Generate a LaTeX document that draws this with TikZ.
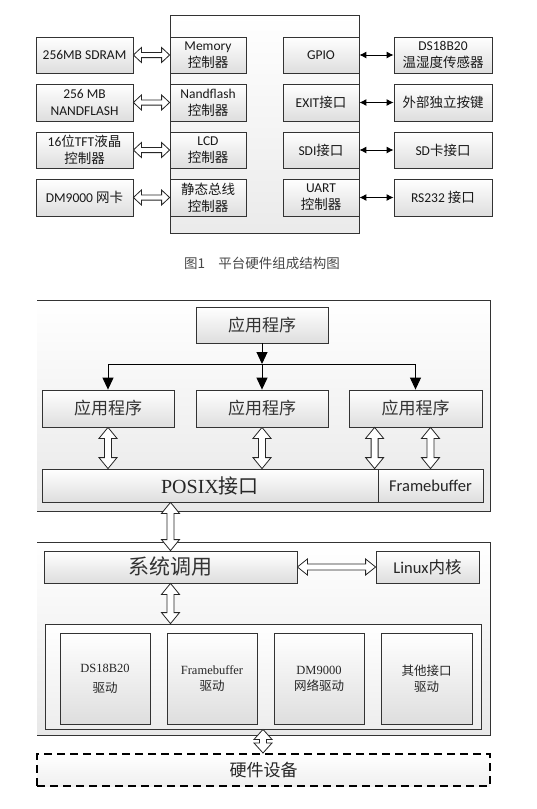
\documentclass[tikz,border=0pt]{standalone}
\usepackage{fontspec}
\setmainfont{Carlito}
\newfontfamily\cjk{Noto Sans CJK SC}
\newfontfamily\tms{Liberation Serif}
\usetikzlibrary{calc,shadows,arrows.meta}

% hollow double-headed block arrow between two coordinates
% #1 from, #2 to, #3 head length, #4 head half width, #5 shaft half width
\newcommand\hollowarrow[5]{%
  \path #1 coordinate (hA) #2 coordinate (hB);
  \path ($(hA)!#3!(hB)$) coordinate (hAh) ($(hB)!#3!(hA)$) coordinate (hBh);
  \draw[hollowline] (hA) -- ($(hAh)!#4!90:(hB)$) -- ($(hAh)!#5!90:(hB)$)
    -- ($(hBh)!#5!-90:(hA)$) -- ($(hBh)!#4!-90:(hA)$) -- (hB)
    -- ($(hBh)!#4!90:(hA)$) -- ($(hBh)!#5!90:(hA)$)
    -- ($(hAh)!#5!-90:(hB)$) -- ($(hAh)!#4!-90:(hB)$) -- cycle;}

% box by corners: [style]{name}{x1}{y1}{x2}{y2}{text}
\newcommand\bx[7][]{%
  \node[#1, minimum width={(#5-#3)*1pt}, minimum height={(#6-#4)*1pt}]
    (#2) at ({(#3+#5)/2},{(#4+#6)/2}) {#7};}

\begin{document}
\begin{tikzpicture}[x=1pt,y=-1pt,
  hollowline/.style={draw=black!85, fill=white, line width=0.8pt, line join=miter},
  shadebox/.style={draw=black!80, line width=0.8pt, top color=white, bottom color=black!13,
     drop shadow={shadow xshift=1.3pt, shadow yshift=-1.3pt, opacity=0.35},
     inner sep=0pt, align=center},
  topbox/.style={shadebox, font=\fontsize{13.5}{17}\selectfont, text=black!90},
  appbox/.style={shadebox, font=\cjk\fontsize{17}{20}\selectfont, text=black!80},
  drvbox/.style={shadebox, font=\fontsize{12.5}{16}\selectfont, text=black!85},
  thinarrow/.style={line width=1pt, {Latex[length=7pt,width=7pt]}-{Latex[length=7pt,width=7pt]}},
  triarrow/.style={line width=1pt, -{Triangle[length=12pt,width=11pt]}},
  container/.style={draw=black!80, line width=0.8pt, top color=white, bottom color=black!7}
]
\useasboundingbox (0,0) rectangle (536,809);
\fill[white] (0,0) rectangle (536,809);

% ================= Figure 1 =================
\bx[draw=black!80, line width=0.8pt, top color=white, bottom color=black!8]{cpu}{170}{15}{359}{233}{}

% left external boxes
\bx[topbox]{l1}{36}{37}{133}{73}{256MB SDRAM}
\bx[topbox]{l2}{36}{84}{133}{121}{256 MB\\NANDFLASH}
\bx[topbox]{l3}{36}{132}{133}{168}{16{\cjk 位}TFT{\cjk 液晶}\\{\cjk 控制器}}
\bx[topbox]{l4}{36}{179}{133}{216}{DM9000 {\cjk 网卡}}

% inner left controllers
\bx[topbox]{c1}{170}{37}{246}{73}{Memory\\{\cjk 控制器}}
\bx[topbox]{c2}{170}{84}{246}{121}{Nandflash\\{\cjk 控制器}}
\bx[topbox]{c3}{170}{132}{246}{168}{LCD\\{\cjk 控制器}}
\bx[topbox]{c4}{170}{179}{246}{216}{{\cjk 静态总线}\\{\cjk 控制器}}

% inner right controllers
\bx[topbox]{d1}{283}{37}{359}{73}{GPIO}
\bx[topbox]{d2}{283}{84}{359}{121}{EXIT{\cjk 接口}}
\bx[topbox]{d3}{283}{132}{359}{168}{SDI{\cjk 接口}}
\bx[topbox]{d4}{283}{179}{359}{216}{UART\\{\cjk 控制器}}

% right external boxes
\bx[topbox]{r1}{394}{37}{492}{73}{DS18B20\\{\cjk 温湿度传感器}}
\bx[topbox]{r2}{394}{84}{492}{121}{{\cjk 外部独立按键}}
\bx[topbox]{r3}{394}{132}{492}{168}{SD{\cjk 卡接口}}
\bx[topbox]{r4}{394}{179}{492}{216}{RS232 {\cjk 接口}}

\foreach \i in {1,2,3,4}{
  \hollowarrow{(l\i.east)}{(c\i.west)}{8pt}{7.5pt}{2.6pt}
  \draw[thinarrow] (d\i.east) -- (r\i.west);
}

\node[font=\cjk\fontsize{13.5}{16}\selectfont, text=black!72] (cap) at (262,263) {图1　平台硬件组成结构图};

% ================= Figure 2 =================
% outer box 1 (software layer)
\fill[top color=white, bottom color=black!9] (37,300) rectangle (490,511);
\draw[black!80, line width=0.8pt] (37,300) -- (490,300) -- (490,511) -- (37,511);

\bx[appbox]{top}{196}{307}{328}{343}{应用程序}
\bx[appbox]{appL}{42}{390}{174}{427}{应用程序}
\bx[appbox]{appM}{196}{390}{328}{427}{应用程序}
\bx[appbox]{appR}{349}{390}{482}{427}{应用程序}

\coordinate (jM) at (top.south |- 0,364);
\coordinate (jL) at (appL.north |- jM);
\coordinate (jR) at (appR.north |- jM);
\draw[line width=1pt] (jL) -- (jR);
\draw[triarrow] (top.south) -- (jM);
\draw[triarrow] (jM) -- (appM.north);
\draw[triarrow] (jL) -- (appL.north);
\draw[triarrow] (jR) -- (appR.north);

\bx[shadebox, font=\fontsize{20}{24}\selectfont, text=black!85]{posix}{42}{469}{378}{502}{{\tms POSIX}{\cjk 接口}}
\bx[shadebox, font=\fontsize{16.5}{20}\selectfont, text=black!85]{fb}{378}{469}{483}{502}{Framebuffer}

\hollowarrow{(appL.south)}{(appL.south |- posix.north)}{11pt}{9pt}{3.5pt}
\hollowarrow{(appM.south)}{(appM.south |- posix.north)}{11pt}{9pt}{3.5pt}
\hollowarrow{([xshift=26pt]appR.south west)}{([xshift=26pt]appR.south west |- posix.north)}{11pt}{9pt}{3.5pt}
\hollowarrow{(appR.south -| fb.north)}{(fb.north)}{11pt}{9pt}{3.5pt}

% outer box 2 (kernel layer)
\fill[top color=white, bottom color=black!9] (37,542) rectangle (490,735);
\draw[black!80, line width=0.8pt] (37,542) -- (490,542) -- (490,735) -- (37,735);

\bx[shadebox, font=\cjk\fontsize{21}{24}\selectfont, text=black!80]{call}{44}{551}{297}{583}{系统调用}
\bx[shadebox, font=\fontsize{16.5}{20}\selectfont, text=black!85]{linux}{376}{551}{479}{583}{Linux{\cjk 内核}}

\hollowarrow{(call.south |- posix.south)}{(call.north)}{11pt}{9pt}{3.5pt}
\hollowarrow{(call.east)}{(linux.west)}{10pt}{8pt}{3pt}

\bx[container, drop shadow={shadow xshift=1.3pt, shadow yshift=-1.3pt, opacity=0.3}]{drv}{45}{624}{481}{729}{}
\hollowarrow{(call.south)}{(call.south |- drv.north)}{11pt}{9pt}{3.5pt}

\bx[drvbox]{dv1}{60}{633}{150}{724}{{\tms DS18B20}\\[4pt]{\cjk 驱动}}
\bx[drvbox]{dv2}{167}{633}{257}{724}{{\tms Framebuffer}\\{\cjk 驱动}}
\bx[drvbox]{dv3}{274}{633}{364}{724}{{\tms DM9000}\\{\cjk 网络驱动}}
\bx[drvbox]{dv4}{381}{633}{472}{724}{{\cjk 其他接口}\\{\cjk 驱动}}

% hardware
\bx[draw=black, line width=2pt, dash pattern=on 8pt off 5pt, top color=white, bottom color=black!6,
    font=\cjk\fontsize{17}{20}\selectfont, text=black!85, inner sep=0pt]{hw}{37}{754}{490}{786}{硬件设备}
\hollowarrow{(drv.south)}{(drv.south |- hw.north)}{10pt}{9pt}{3.5pt}

\end{tikzpicture}
\end{document}
